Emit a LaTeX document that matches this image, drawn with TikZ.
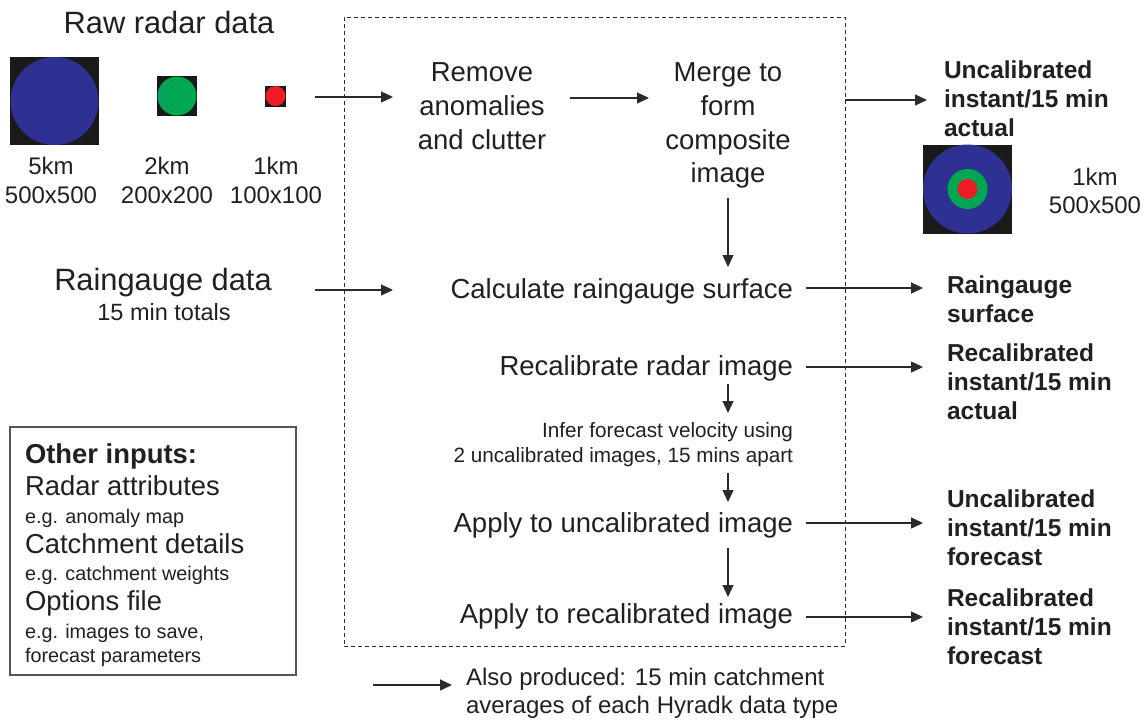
\documentclass[tikz,border=0pt]{standalone}
\usepackage{fontspec}
\setmainfont{Liberation Sans}
\usetikzlibrary{arrows.meta}
\definecolor{txt}{HTML}{231F20}
\definecolor{ln}{HTML}{2B2B2B}
\definecolor{rblue}{HTML}{2E3192}
\definecolor{rgreen}{HTML}{00A651}
\definecolor{rred}{HTML}{ED1C24}
\definecolor{sqblack}{HTML}{1A1A1A}
\definecolor{boxgray}{HTML}{555555}
\begin{document}
\begin{tikzpicture}[x=1pt,y=-1pt,
  every node/.style={inner sep=0pt, outer sep=0pt, text=txt},
  arr/.style={draw=ln, line width=1.3pt, -{Triangle[length=12pt,width=11pt]}},
  fh/.style={font=\fontsize{30.8}{34}\selectfont},
  fp/.style={font=\fontsize{27.5}{33}\selectfont},
  fl/.style={font=\fontsize{24}{28}\selectfont},
  fm/.style={font=\fontsize{23.5}{28}\selectfont},
  fs/.style={font=\fontsize{20.7}{25}\selectfont},
  fo/.style={font=\bfseries\fontsize{24.5}{29}\selectfont},
  fb/.style={font=\bfseries\fontsize{27.4}{31}\selectfont},
  fr/.style={font=\fontsize{27.4}{31}\selectfont},
  fe/.style={font=\fontsize{19.8}{24}\selectfont},
  radarsq/.style={fill=sqblack, draw=none},
  dashbox/.style={draw=ln, line width=1pt, dash pattern=on 4pt off 3pt},
  otherbox/.style={draw=boxgray, line width=1.4pt}
]
\useasboundingbox (0,0) rectangle (1147,721);

% ---------- raw radar data ----------
\node[fh, anchor=base] (rawt) at (169,33) {Raw radar data};
\node[radarsq, minimum width=89pt, minimum height=88pt] (sq5) at (54.5,101) {};
\fill[rblue] (sq5.center) circle[radius=44pt];
\node[radarsq, minimum size=40pt] (sq2) at (177,96) {};
\fill[rgreen] (sq2.center) circle[radius=19.5pt];
\node[radarsq, minimum size=21pt] (sq1) at (275.5,96) {};
\fill[rred] (sq1.center) circle[radius=10pt];
\node[fl, anchor=base] (l5a) at (51,174) {5km};
\node[fl, anchor=base] (l5b) at (51,203) {500x500};
\node[fl, anchor=base] (l2a) at (167,174) {2km};
\node[fl, anchor=base] (l2b) at (167,203) {200x200};
\node[fl, anchor=base] (l1a) at (276,174) {1km};
\node[fl, anchor=base] (l1b) at (276,203) {100x100};

% ---------- raingauge data ----------
\node[fh, anchor=base] (rgt) at (163,290) {Raingauge data};
\node[fm, anchor=base] (rgs) at (164,320) {15 min totals};

% ---------- process box ----------
\node[dashbox, minimum width=501pt, minimum height=629pt] (proc) at (594.5,331.5) {};

\node[fp, anchor=base] (rem1) at (482,81) {Remove};
\node[fp, anchor=base] (rem2) at (482,115) {anomalies};
\node[fp, anchor=base] (rem3) at (482,149) {and clutter};

\node[fp, anchor=base] (mer1) at (728,81) {Merge to};
\node[fp, anchor=base] (mer2) at (728,115) {form};
\node[fp, anchor=base] (mer3) at (728,149) {composite};
\node[fp, anchor=base] (mer4) at (728,182) {image};

\node[fp, anchor=base east] (calc) at (793,298) {Calculate raingauge surface};
\node[fp, anchor=base east] (recal) at (793,375) {Recalibrate radar image};
\node[fs, anchor=base east] (inf1) at (793,437) {Infer forecast velocity using};
\node[fs, anchor=base east] (inf2) at (793,462) {2 uncalibrated images, 15 mins apart};
\node[fp, anchor=base east] (app1) at (793,532) {Apply to uncalibrated image};
\node[fp, anchor=base east] (app2) at (793,623) {Apply to recalibrated image};

% ---------- outputs ----------
\node[fo, anchor=base west] (o1a) at (944,78) {Uncalibrated};
\node[fo, anchor=base west] (o1b) at (944,107) {instant/15 min};
\node[fo, anchor=base west] (o1c) at (944,136) {actual};
\node[radarsq, minimum size=89pt] (sqc) at (967.5,189) {};
\fill[rblue] (sqc.center) circle[radius=44.5pt];
\fill[rgreen] (sqc.center) circle[radius=20pt];
\fill[rred] (sqc.center) circle[radius=10pt];
\node[fl, anchor=base] (lca) at (1095,185) {1km};
\node[fl, anchor=base] (lcb) at (1095,213) {500x500};

\node[fo, anchor=base west] (o2a) at (947,293) {Raingauge};
\node[fo, anchor=base west] (o2b) at (947,322) {surface};
\node[fo, anchor=base west] (o3a) at (947,361) {Recalibrated};
\node[fo, anchor=base west] (o3b) at (947,390) {instant/15 min};
\node[fo, anchor=base west] (o3c) at (947,419) {actual};
\node[fo, anchor=base west] (o4a) at (947,507) {Uncalibrated};
\node[fo, anchor=base west] (o4b) at (947,536) {instant/15 min};
\node[fo, anchor=base west] (o4c) at (947,565) {forecast};
\node[fo, anchor=base west] (o5a) at (947,606) {Recalibrated};
\node[fo, anchor=base west] (o5b) at (947,635) {instant/15 min};
\node[fo, anchor=base west] (o5c) at (947,664) {forecast};

% ---------- other inputs ----------
\node[otherbox, minimum width=286pt, minimum height=248pt] (others) at (153,551) {};
\node[fb, anchor=base west] (ot1) at (25,463) {Other inputs:};
\node[fr, anchor=base west] (ot2) at (25,495) {Radar attributes};
\node[fe, anchor=base west] (ot3) at (25,523) {e.g. anomaly map};
\node[fr, anchor=base west] (ot4) at (25,553) {Catchment details};
\node[fe, anchor=base west] (ot5) at (25,580) {e.g. catchment weights};
\node[fr, anchor=base west] (ot6) at (25,610) {Options file};
\node[fe, anchor=base west] (ot7) at (25,638) {e.g. images to save,};
\node[fe, anchor=base west] (ot8) at (25,662) {forecast parameters};

% ---------- also produced ----------
\node[fl, anchor=base west] (als1) at (466,685) {Also produced: 15 min catchment};
\node[fl, anchor=base west] (als2) at (466,713) {averages of each Hyradk data type};

% ---------- connector end points ----------
\coordinate (rawS) at (315,97);   \coordinate (rawE) at (393,97);
\coordinate (rgS) at (315,290);   \coordinate (rgE) at (393,290);
\coordinate (rmS) at (570,98);    \coordinate (rmE) at (649,98);
\coordinate (o1S) at (845,100);   \coordinate (o1E) at (927,100);
\coordinate (mdS) at (728,198);   \coordinate (mdE) at (728,267);
\coordinate (c2S) at (806,288);   \coordinate (c2E) at (923,288);
\coordinate (r3S) at (806,367);   \coordinate (r3E) at (923,367);
\coordinate (d1S) at (728,384);   \coordinate (d1E) at (728,413);
\coordinate (d2S) at (728,473);   \coordinate (d2E) at (728,502);
\coordinate (d3S) at (728,548);   \coordinate (d3E) at (728,597);
\coordinate (a4S) at (806,523);   \coordinate (a4E) at (923,523);
\coordinate (a5S) at (806,617);   \coordinate (a5E) at (923,617);
\coordinate (alS) at (373,685);   \coordinate (alE) at (452,685);

\draw[arr] (rawS) -- (rawE);
\draw[arr] (rgS) -- (rgE);
\draw[arr] (rmS) -- (rmE);
\draw[arr] (o1S) -- (o1E);
\draw[arr] (mdS) -- (mdE);
\draw[arr] (c2S) -- (c2E);
\draw[arr] (r3S) -- (r3E);
\draw[arr] (d1S) -- (d1E);
\draw[arr] (d2S) -- (d2E);
\draw[arr] (d3S) -- (d3E);
\draw[arr] (a4S) -- (a4E);
\draw[arr] (a5S) -- (a5E);
\draw[arr] (alS) -- (alE);
\end{tikzpicture}
\end{document}
